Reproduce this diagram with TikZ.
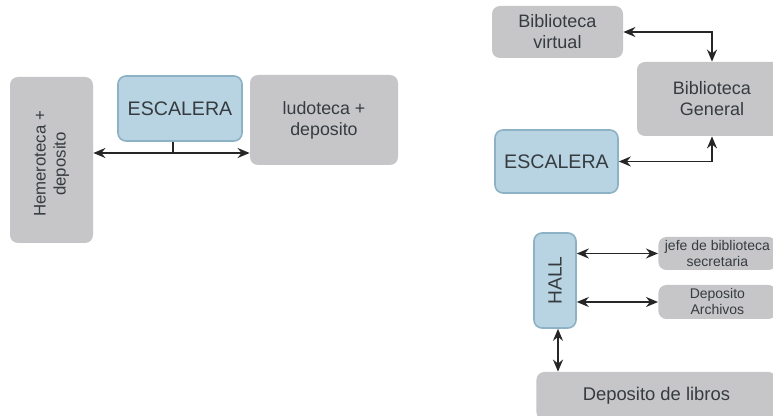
\documentclass[tikz,border=0pt]{standalone}
\usepackage{fontspec}
\setmainfont{Liberation Sans}
\usetikzlibrary{arrows.meta,positioning}
\definecolor{boxgray}{HTML}{C6C6C8}
\definecolor{boxblue}{HTML}{B8D4E2}
\definecolor{edgeblue}{HTML}{8DB2C5}
\definecolor{txt}{HTML}{363B40}
\tikzset{
  grisbox/.style={fill=boxgray,rounded corners=4pt,align=center,text=txt,inner sep=1pt},
  azulbox/.style={fill=boxblue,draw=edgeblue,line width=0.8pt,rounded corners=4pt,align=center,text=txt,inner sep=1pt},
  flecha/.style={<->,line width=0.8pt,draw=black!85}
}
\begin{document}
\begin{tikzpicture}[x=0.5pt,y=-0.5pt,>={Stealth[length=6pt,width=5pt]}]
  \useasboundingbox[fill=white] (0,0) rectangle (773,416);
  % planta izquierda
  \node[grisbox,minimum width=41.5pt,minimum height=83pt] (hem) at (51.5,160) {};
  \node[rotate=90,align=center,text=txt,font=\fontsize{8.4}{10}\selectfont] at (51.5,164) {Hemeroteca +\\deposito};
  \node[azulbox,minimum width=62pt,minimum height=32.5pt,font=\fontsize{9.8}{11}\selectfont] (esc1) at (180,108.5) {ESCALERA};
  \node[grisbox,minimum width=74pt,minimum height=45pt,font=\fontsize{8.9}{10.5}\selectfont] (ludo) at (324,120) {ludoteca +\\deposito};
  \coordinate (j1) at (173,153);
  \draw[flecha] (hem.east |- j1) -- (ludo.west |- j1);
  \draw[line width=0.8pt,draw=black!85] (esc1.south -| j1) -- (j1);
  % planta derecha
  \node[grisbox,minimum width=65.5pt,minimum height=26pt,font=\fontsize{9}{10.5}\selectfont] (virt) at (557.5,32) {Biblioteca\\virtual};
  \node[grisbox,minimum width=75pt,minimum height=37pt,font=\fontsize{9}{10.5}\selectfont] (gen) at (712,99) {Biblioteca\\General};
  \node[azulbox,minimum width=61.5pt,minimum height=31.5pt,font=\fontsize{9.8}{11}\selectfont] (esc2) at (556.5,161.5) {ESCALERA};
  \draw[flecha] (virt.east) -| (gen.north);
  \draw[flecha] (esc2.east) -| (gen.south);
  \node[azulbox,minimum width=21pt,minimum height=47.5pt] (hall) at (555,280.5) {};
  \node[rotate=90,text=txt,font=\fontsize{9.6}{11}\selectfont] at (hall) {HALL};
  \node[grisbox,minimum width=59pt,minimum height=16.5pt,font=\fontsize{7}{8}\selectfont,anchor=west] (jefe) at (658,253.5) {jefe de biblioteca\\secretaria};
  \node[grisbox,minimum width=59pt,minimum height=17pt,font=\fontsize{7}{8}\selectfont,anchor=west] (arch) at (658,302) {Deposito\\Archivos};
  \node[grisbox,minimum width=120pt,minimum height=24pt,font=\fontsize{9.2}{11}\selectfont,anchor=west] (libros) at (536,396) {Deposito de libros};
  \draw[flecha] (hall.east |- jefe) -- (jefe.west);
  \draw[flecha] (hall.east |- arch) -- (arch.west);
  \draw[flecha] ([xshift=1.5pt]hall.south) -- ([xshift=1.5pt]hall.south |- libros.north);
\end{tikzpicture}
\end{document}
